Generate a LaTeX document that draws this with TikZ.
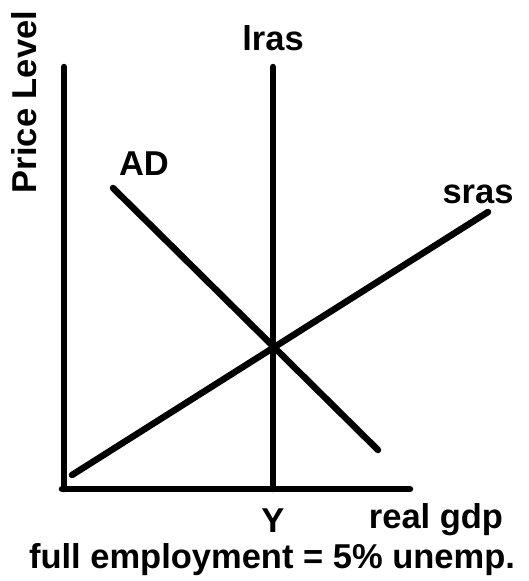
\documentclass[tikz,border=0pt]{standalone}
\usepackage{fontspec}
\setmainfont{Liberation Sans}
\begin{document}
\begin{tikzpicture}[x=1pt,y=-1pt,
  curve/.style={line width=6.5pt,line cap=round,black},
  lbl/.style={font=\bfseries\fontsize{34.5}{38}\selectfont,inner sep=0pt,anchor=base}]
\useasboundingbox (0,0) rectangle (529,581);
% axes
\coordinate (top) at (64,67);
\coordinate (orig) at (62,489);
\coordinate (xend) at (410,489);
\coordinate (ltop) at (273,67);
\coordinate (lbot) at (273,489);
\coordinate (ad1) at (113,188);
\coordinate (ad2) at (378,450);
\coordinate (s1) at (72,475);
\coordinate (s2) at (488,212);
\draw[curve] (top) -- (64,489);
\draw[curve] (orig) -- (xend);
\draw[curve] (ltop) -- (lbot);
\draw[curve] (ad1) -- (ad2);
\draw[curve] (s1) -- (s2);
% labels
\node[lbl,rotate=90] (pl) at (36,102) {Price Level};
\node[lbl] (lras) at (273,50) {lras};
\node[lbl] (ad) at (144,175) {AD};
\node[lbl] (sras) at (478,203) {sras};
\node[lbl] (y) at (273,532) {Y};
\node[lbl] (gdp) at (436,528) {real gdp};
\node[lbl] (fe) at (272,568) {full employment = 5\% unemp.};
\end{tikzpicture}
\end{document}
